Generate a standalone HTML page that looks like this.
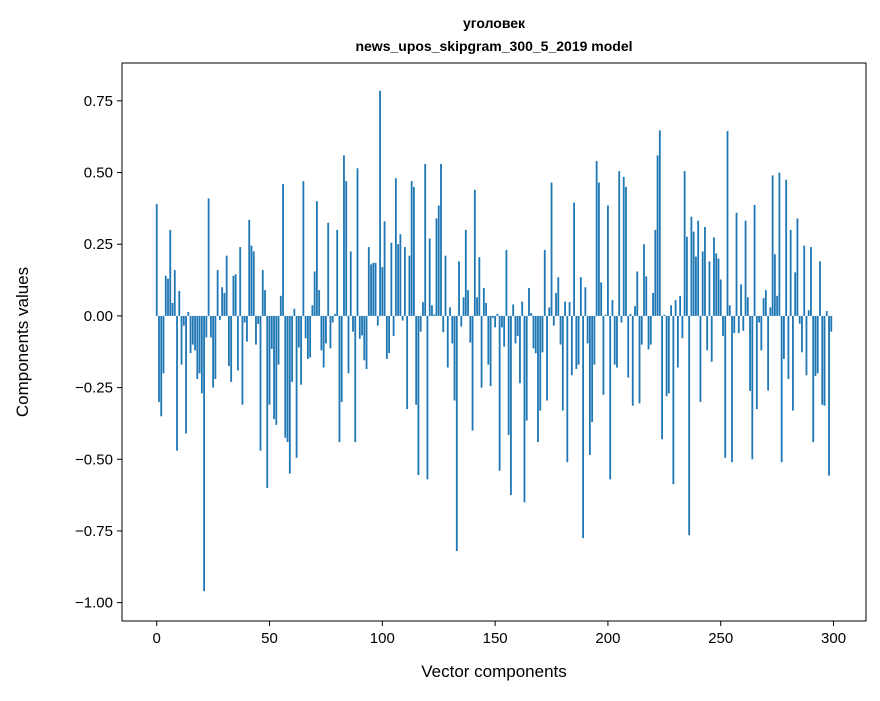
<!DOCTYPE html>
<html><head><meta charset="utf-8"><style>
body{margin:0;background:#fff;}
svg text{font-family:"Liberation Sans","DejaVu Sans",sans-serif;fill:#000;}
</style></head><body>
<svg id="chart" width="880" height="696" xmlns="http://www.w3.org/2000/svg">
<text x="494" y="28" text-anchor="middle" font-size="14" font-weight="bold">уголовек</text>
<text x="494" y="51" text-anchor="middle" font-size="14" font-weight="bold">news_upos_skipgram_300_5_2019 model</text>
<g id="bars"></g>
<g id="axes"></g>
<rect x="122" y="63" width="744" height="558" fill="none" stroke="#000" stroke-width="1"/>
<text x="494" y="677" text-anchor="middle" font-size="17">Vector components</text>
<text transform="translate(28,342) rotate(-90)" text-anchor="middle" font-size="17">Components values</text>
</svg>
<script>
const values = [0.39,-0.30,-0.35,-0.20,0.14,0.13,0.30,0.045,0.16,-0.47,0.087,-0.17,-0.034,-0.41,0.014,-0.13,-0.10,-0.12,-0.22,-0.20,
-0.27,-0.96,-0.075,0.41,-0.075,-0.25,-0.22,0.16,-0.014,0.10,0.08,0.21,-0.175,-0.23,0.14,0.145,-0.19,0.24,-0.31,-0.023,
-0.09,0.335,0.245,0.225,-0.10,-0.028,-0.47,0.16,0.09,-0.60,-0.31,-0.115,-0.36,-0.38,-0.17,0.07,0.46,-0.425,-0.44,-0.55,
-0.23,0.025,-0.495,-0.11,-0.24,0.47,-0.078,-0.15,-0.145,0.037,0.155,0.40,0.09,-0.12,-0.18,-0.096,0.325,-0.113,-0.023,0.007,
0.30,-0.44,-0.30,0.56,0.47,-0.20,0.225,-0.055,-0.44,0.515,-0.08,-0.068,-0.155,-0.185,0.24,0.18,0.185,0.185,-0.034,0.785,
0.17,0.33,-0.15,-0.13,0.255,-0.07,0.48,0.25,0.285,-0.016,0.24,-0.325,0.21,0.47,0.45,-0.31,-0.555,-0.055,0.048,0.53,
-0.57,0.27,0.037,0.005,0.34,0.385,0.53,-0.057,0.21,-0.18,0.03,-0.096,-0.295,-0.82,0.19,-0.037,0.065,0.30,0.09,-0.093,
-0.40,0.44,0.065,0.205,-0.25,0.097,0.045,-0.17,-0.245,-0.007,-0.04,0.007,-0.54,-0.04,-0.107,0.23,-0.415,-0.625,0.04,-0.096,
-0.07,-0.235,0.05,-0.65,-0.365,0.097,0.01,-0.113,-0.13,-0.44,-0.33,-0.127,0.23,-0.295,0.03,0.465,-0.034,0.08,0.135,-0.10,
-0.33,0.05,-0.51,0.048,-0.207,0.395,-0.185,-0.17,0.135,-0.775,0.10,-0.096,-0.485,-0.37,-0.17,0.54,0.465,0.117,-0.275,0.004,
0.385,-0.57,0.055,-0.17,-0.18,0.505,-0.023,0.485,0.45,-0.215,0.007,-0.313,0.034,0.155,-0.305,-0.10,0.25,0.138,-0.117,-0.10,
0.08,0.30,0.56,0.647,-0.43,0.004,-0.28,-0.27,0.037,-0.587,0.055,-0.18,0.07,-0.078,0.505,0.276,-0.765,0.346,0.294,0.207,
0.332,-0.30,0.225,0.31,-0.12,0.19,-0.16,0.274,0.218,0.20,0.127,-0.07,-0.495,0.645,0.037,-0.51,-0.06,0.36,-0.06,0.11,
-0.052,0.332,0.065,-0.262,-0.50,0.387,-0.325,-0.023,-0.12,0.062,0.09,-0.26,0.03,0.49,0.215,0.07,0.50,-0.51,-0.15,0.475,
-0.22,0.30,-0.33,0.152,0.34,-0.027,-0.127,0.245,-0.207,0.02,0.24,-0.44,-0.21,-0.20,0.19,-0.31,-0.313,0.017,-0.557,-0.055];
const xTicks = [0,50,100,150,200,250,300];
const yTicks = [-1.00,-0.75,-0.50,-0.25,0.00,0.25,0.50,0.75];
const yTickLabels = ["−1.00","−0.75","−0.50","−0.25","0.00","0.25","0.50","0.75"];

const NS="http://www.w3.org/2000/svg";
const X0=122,X1=866,Y0=63,Y1=621;
const xmin=-15.39,xmax=314.39,ymin=-1.064,ymax=0.882;
function xs(v){return X0+(v-xmin)/(xmax-xmin)*(X1-X0);}
function ys(v){return Y1-(v-ymin)/(ymax-ymin)*(Y1-Y0);}
const gb=document.getElementById('bars');
values.forEach((v,i)=>{
  const r=document.createElementNS(NS,'rect');
  
  
  const a=xs(i-0.4),b=xs(i+0.4);
  r.setAttribute('x',a);r.setAttribute('width',b-a);
  r.setAttribute('y',Math.min(ys(v),ys(0)));
  r.setAttribute('height',Math.abs(ys(v)-ys(0)));
  r.setAttribute('fill','#1f77b4');
  gb.appendChild(r);
});
const ga=document.getElementById('axes');
xTicks.forEach(t=>{
  const l=document.createElementNS(NS,'line');
  
  
  l.setAttribute('x1',xs(t));l.setAttribute('x2',xs(t));l.setAttribute('y1',Y1);l.setAttribute('y2',Y1+5);l.setAttribute('stroke','#000');
  ga.appendChild(l);
  const tx=document.createElementNS(NS,'text');
  
  
  tx.setAttribute('x',xs(t));tx.setAttribute('y',Y1+22);tx.setAttribute('text-anchor','middle');tx.setAttribute('font-size','15');
  tx.textContent=t;ga.appendChild(tx);
});
yTicks.forEach((t,i)=>{
  const l=document.createElementNS(NS,'line');
  
  
  l.setAttribute('x1',X0-5);l.setAttribute('x2',X0);l.setAttribute('y1',ys(t));l.setAttribute('y2',ys(t));l.setAttribute('stroke','#000');
  ga.appendChild(l);
  const tx=document.createElementNS(NS,'text');
  
  
  tx.setAttribute('x',X0-9);tx.setAttribute('y',ys(t)+5);tx.setAttribute('text-anchor','end');tx.setAttribute('font-size','15');
  tx.textContent=yTickLabels[i];ga.appendChild(tx);
});
</script>
</body></html>
